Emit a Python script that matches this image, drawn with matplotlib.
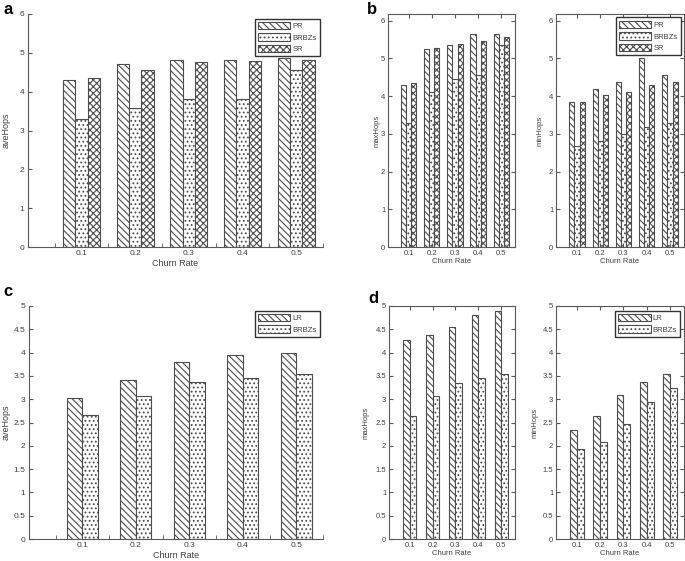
import matplotlib.pyplot as plt
import numpy as np

plt.rcParams['font.family'] = ['Liberation Sans', 'DejaVu Sans']
plt.rcParams['font.size'] = 6
plt.rcParams['hatch.linewidth'] = 0.8
plt.rcParams['text.color'] = '0.25'
plt.rcParams['axes.labelcolor'] = '0.25'
plt.rcParams['xtick.color'] = '0.35'
plt.rcParams['ytick.color'] = '0.35'
plt.rcParams['xtick.labelcolor'] = '0.25'
plt.rcParams['ytick.labelcolor'] = '0.25'

churn = [0.1, 0.2, 0.3, 0.4, 0.5]

# panel a / b : PR, BRBZs, SR
ave_pr = [4.30, 4.72, 4.81, 4.81, 4.86]
ave_brbzs = [3.29, 3.59, 3.80, 3.81, 4.56]
ave_sr = [4.35, 4.55, 4.76, 4.79, 4.82]

max_pr = [4.31, 5.24, 5.37, 5.65, 5.66]
max_brbzs = [3.28, 4.10, 4.45, 4.56, 5.35]
max_sr = [4.36, 5.28, 5.39, 5.46, 5.56]

min_pr = [3.84, 4.20, 4.38, 5.00, 4.56]
min_brbzs = [2.67, 2.82, 3.00, 3.18, 3.30]
min_sr = [3.85, 4.02, 4.11, 4.29, 4.38]

# panel c / d : LR, BRBZs
ave_lr = [3.03, 3.41, 3.79, 3.94, 3.99]
ave_brbzs2 = [2.66, 3.06, 3.36, 3.46, 3.55]

max_lr = [4.28, 4.37, 4.55, 4.80, 4.89]
max_brbzs2 = [2.65, 3.06, 3.35, 3.46, 3.55]

min_lr = [2.34, 2.64, 3.10, 3.37, 3.55]
min_brbzs2 = [1.94, 2.09, 2.46, 2.94, 3.24]

hatches = {'PR': '\\\\\\\\\\', 'LR': '\\\\\\\\\\', 'BRBZs': '....', 'SR': 'xxxxx'}

W, H = 685, 561
fig = plt.figure(figsize=(6.85, 5.61), dpi=100)


def make_ax(l, r, t, b):
    return fig.add_axes([l / W, (H - b) / H, (r - l) / W, (b - t) / H])


def bars(ax, series, names, width):
    x = np.array(churn)
    n = len(series)
    for i, (vals, name) in enumerate(zip(series, names)):
        off = (i - (n - 1) / 2) * width
        ax.bar(x + off, vals, width, color='white', edgecolor='0.3',
               linewidth=0.8, hatch=hatches[name], label=name)


def style_open(ax, ymax, yticks, ylab, lx):
    # panels a and c: only left and bottom axes
    ax.set_xlim(0, 0.55)
    ax.set_ylim(0, ymax)
    ax.spines['top'].set_visible(False)
    ax.spines['right'].set_visible(False)
    for s in ['left', 'bottom']:
        ax.spines[s].set_color('0.35')
        ax.spines[s].set_linewidth(0.8)
    ax.set_xticks(churn)
    ax.set_xticklabels([str(c) for c in churn])
    ax.set_xticks(np.arange(0.05, 0.56, 0.1), minor=True)
    ax.tick_params(axis='x', which='major', length=0, pad=2.5, labelsize=6)
    ax.tick_params(axis='x', which='minor', direction='in', length=3)
    ax.set_yticks(yticks)
    ax.set_yticklabels([('%g' % v) for v in yticks])
    ax.tick_params(axis='y', direction='in', length=3, pad=2.5, labelsize=6)
    ax.set_xlabel('Churn Rate', labelpad=1, fontsize=6.5)
    ax.set_ylabel(ylab, fontsize=6.5)
    ax.yaxis.set_label_coords(lx, 0.5)


def style_box(ax, ymax, yticks, ylab, lx):
    ax.set_xlim(0.01, 0.56)
    ax.set_ylim(0, ymax)
    for s in ax.spines.values():
        s.set_color('0.35')
        s.set_linewidth(0.8)
    ax.set_xticks(churn)
    ax.set_xticklabels([str(c) for c in churn])
    ax.set_yticks(yticks)
    ax.set_yticklabels([('%g' % v) for v in yticks])
    ax.tick_params(direction='in', length=3, top=True, right=True,
                   pad=2, labelsize=5.5)
    ax.set_xlabel('Churn Rate', labelpad=1, fontsize=5.5)
    ax.set_ylabel(ylab, fontsize=5.5)
    ax.yaxis.set_label_coords(lx, 0.5)


def legend(ax, x, y):
    ax.legend(loc='upper right', bbox_to_anchor=(x, y), fancybox=False,
              edgecolor='0.2', framealpha=1, handlelength=4.2,
              handleheight=1.1, borderpad=0.4, labelspacing=0.45,
              handletextpad=0.3, borderaxespad=0, fontsize=5.5)


# a
ax_a = make_ax(28, 323, 14, 247)
bars(ax_a, [ave_pr, ave_brbzs, ave_sr], ['PR', 'BRBZs', 'SR'], 0.023)
style_open(ax_a, 6, list(range(7)), 'aveHops', -0.058)
legend(ax_a, 0.99, 0.98)

# b
ax_b1 = make_ax(388, 515, 14, 247)
bars(ax_b1, [max_pr, max_brbzs, max_sr], ['PR', 'BRBZs', 'SR'], 0.022)
style_box(ax_b1, 6.18, list(range(7)), 'maxHops', -0.055)

ax_b2 = make_ax(556, 684, 14, 247)
bars(ax_b2, [min_pr, min_brbzs, min_sr], ['PR', 'BRBZs', 'SR'], 0.022)
style_box(ax_b2, 6.18, list(range(7)), 'minHops', -0.1)
legend(ax_b2, 0.975, 0.985)

# c
halves = [v / 2 for v in range(11)]
ax_c = make_ax(29, 323, 306, 539)
bars(ax_c, [ave_lr, ave_brbzs2], ['LR', 'BRBZs'], 0.029)
style_open(ax_c, 5, halves, 'aveHops', -0.061)
legend(ax_c, 0.99, 0.98)

# d
ax_d1 = make_ax(389, 515, 306, 539)
bars(ax_d1, [max_lr, max_brbzs2], ['LR', 'BRBZs'], 0.029)
style_box(ax_d1, 5, halves, 'maxHops', -0.155)

ax_d2 = make_ax(556, 684, 306, 539)
bars(ax_d2, [min_lr, min_brbzs2], ['LR', 'BRBZs'], 0.029)
style_box(ax_d2, 5, halves, 'minHops', -0.14)
legend(ax_d2, 0.97, 0.98)

for lab, x, y in [('a', 3, 2), ('b', 367, 2), ('c', 3, 284), ('d', 368, 291)]:
    fig.text(x / W, 1 - y / H, lab, fontsize=12, fontweight='bold',
             color='black', ha='left', va='top')

fig.savefig('out.png', dpi=100)
